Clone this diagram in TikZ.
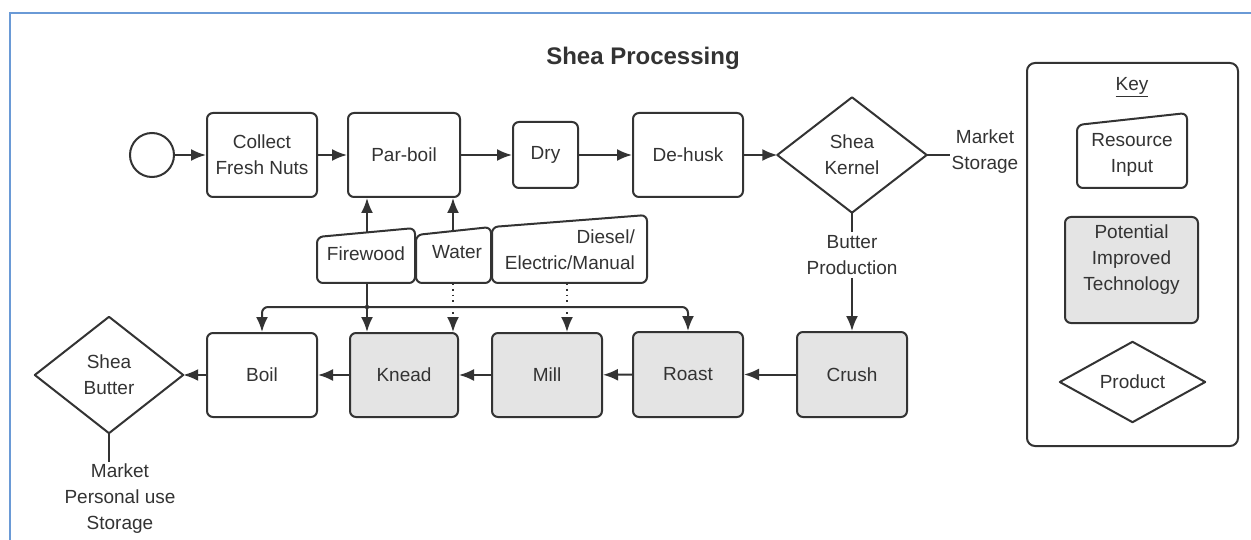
\documentclass[tikz,border=0pt]{standalone}
\usepackage{fontspec}
\setmainfont{Liberation Sans}
\usetikzlibrary{arrows.meta}
\definecolor{lc}{HTML}{333333}
\definecolor{gf}{HTML}{E4E4E4}
\definecolor{fc}{HTML}{6A9AD6}
\begin{document}
\begin{tikzpicture}[x=1pt,y=-1pt,
  font=\fontsize{19}{26}\selectfont, text=lc,
  shp/.style={draw=lc, line width=2pt, rounded corners=6pt},
  proc/.style={shp, fill=white, align=center, inner sep=0pt},
  tech/.style={proc, fill=gf},
  lbl/.style={align=center, inner sep=0pt},
  dshape/.style={draw=lc, line width=2pt, line join=round},
  plain/.style={draw=lc, line width=2pt},
  arr/.style={plain, -{Latex[length=15pt,width=12pt]}},
  darr/.style={draw=lc, line width=1.8pt, dash pattern=on 1.8pt off 4pt, -{Latex[length=15pt,width=12pt]}}
]
\useasboundingbox (0,0) rectangle (1251,540);
\fill[white] (0,0) rectangle (1251,540);
% frame
\draw[fc, line width=2pt] (1251,13) -- (10,13) -- (10,540);

% title
\node[font=\fontsize{24}{28}\selectfont\bfseries, text=lc] (title) at (643,58) {Shea Processing};

% top row
\node[draw=lc, line width=2pt, circle, minimum size=44pt, inner sep=0pt] (start) at (152,155) {};
\node[proc, minimum width=110pt, minimum height=84pt] (collect) at (262,155) {Collect\\Fresh Nuts};
\node[proc, minimum width=112pt, minimum height=84pt] (parboil) at (404,155) {Par-boil};
\node[proc, minimum width=65pt, minimum height=66pt] (dry) at (545.5,155) {Dry};
\node[proc, minimum width=110pt, minimum height=84pt] (dehusk) at (688,155) {De-husk};
\node[lbl, minimum width=149pt, minimum height=115pt] (kernel) at (852,155) {Shea\\Kernel};
\draw[dshape] (kernel.north) -- (kernel.east) -- (kernel.south) -- (kernel.west) -- cycle;
\node[lbl, inner sep=2pt] (mks) at (985,152) {Market\\Storage};
\node[lbl, inner sep=3pt] (bp) at (852,255) {Butter\\Production};

% bottom row
\node[tech, minimum width=110pt, minimum height=85pt] (crush) at (852,374.5) {Crush};
\node[tech, minimum width=110pt, minimum height=85pt] (roast) at (688,374.5) {Roast};
\node[tech, minimum width=110pt, minimum height=84pt] (mill) at (547,375) {Mill};
\node[tech, minimum width=108pt, minimum height=84pt] (knead) at (404,375) {Knead};
\node[proc, minimum width=110pt, minimum height=84pt] (boil) at (262,375) {Boil};
\node[lbl, minimum width=148pt, minimum height=116pt] (butter) at (109,375) {Shea\\Butter};
\draw[dshape] (butter.north) -- (butter.east) -- (butter.south) -- (butter.west) -- cycle;
\node[lbl, inner sep=2pt] (mps) at (120,499) {Market\\Personal use\\Storage};

% resource inputs
\draw[shp, fill=white] (317,283) -- (317,237) -- (415,228) -- (415,283) -- cycle;
\draw[shp, fill=white] (416,283) -- (416,235) -- (491,227) -- (491,283) -- cycle;
\draw[shp, fill=white] (492,283) -- (492,227) -- (647,215) -- (647,283) -- cycle;
\node[lbl] (fw) at (366,254) {Firewood};
\node[lbl] (wa) at (457,252) {Water};
\node[lbl, align=right, anchor=east] (di) at (635,250) {Diesel/\\Electric/Manual};
\coordinate (fwtop) at (367,232);
\coordinate (fwbot) at (367,283);
\coordinate (watop) at (453,231);
\coordinate (wabot) at (453,283);
\coordinate (dibot) at (567,283);
\coordinate (jn) at (367,307);

% connectors top
\draw[arr] (start) -- (collect);
\draw[arr] (collect) -- (parboil);
\draw[arr] (parboil) -- (dry);
\draw[arr] (dry) -- (dehusk);
\draw[arr] (dehusk) -- (kernel.west);
\draw[plain] (kernel.east) -- (kernel.east -| mks.west);
\draw[plain] (kernel.south) -- (bp.north);
\draw[arr] (bp.south) -- (crush.north);

% connectors bottom
\draw[arr] (crush) -- (roast);
\draw[arr] (roast) -- (mill);
\draw[arr] (mill) -- (knead);
\draw[arr] (knead) -- (boil);
\draw[arr] (boil) -- (butter.east);
\draw[plain] (butter.south) -- (butter.south |- mps.north);

% resource connectors
\draw[arr] (fwtop) -- (fwtop |- parboil.south);
\draw[arr] (watop) -- (watop |- parboil.south);
\draw[arr] (fwbot) -- (fwbot |- knead.north);
\draw[arr, rounded corners=6pt] (jn) -| (boil.north);
\draw[arr, rounded corners=6pt] (jn) -| (roast.north);
\fill[lc] (jn) circle (2.2pt);
\draw[darr] (wabot) -- (wabot |- knead.north);
\draw[darr] (dibot) -- (dibot |- mill.north);

% key
\node[shp, rounded corners=8pt, minimum width=211pt, minimum height=383pt, inner sep=0pt] (key) at (1132.5,254.5) {};
\node[lbl] (keyt) at (1132,87) {\underline{Key}};
\draw[shp, fill=white] (1077,188) -- (1077,125) -- (1187,113) -- (1187,188) -- cycle;
\node[lbl] (ri) at (1132,155) {Resource\\Input};
\node[tech, minimum width=133pt, minimum height=106pt] (pit) at (1131.5,270) {};
\node[lbl] (pitt) at (1131.5,260) {Potential\\Improved\\Technology};
\node[lbl, minimum width=145pt, minimum height=80pt] (prod) at (1132.5,382) {Product};
\draw[dshape] (prod.north) -- (prod.east) -- (prod.south) -- (prod.west) -- cycle;
\end{tikzpicture}
\end{document}
